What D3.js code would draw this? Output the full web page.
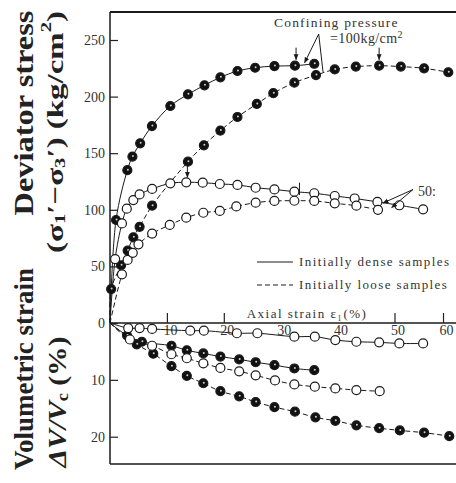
<!doctype html>
<html lang="en">
<head>
<meta charset="utf-8">
<title>Deviator stress and volumetric strain</title>
<style>
  body { margin: 0; background: #fff; }
  svg { display: block; }
  .tick text { font-family: "Liberation Serif", "DejaVu Serif", serif; font-size: 14px; fill: #333; }
  .tick line { stroke: #222; stroke-width: 1.2; }
  .domain { display: none; }
</style>
</head>
<body>
<script src="https://d3js.org/d3.v7.min.js"></script>
<script>
// ---- data: [axial strain %, value] ----
var stressDense100 = [[0,0],[1.06,91],[3.05,135],[3.94,147],[5.3,158.7],[7.37,174],[10.6,191.7],[13.7,202],[16.6,210],[19.4,217],[22.4,222.6],[25.5,225.5],[28.9,227],[32.5,227.3],[35.9,229]];
var stressLoose100 = [[0,0],[0.2,30],[1.95,51],[3.1,64],[4.1,75.7],[5.2,85],[7.4,103.6],[13.7,142.5],[16.5,157],[19.4,170],[22.4,182],[25.8,193.5],[28.7,203],[32.4,212.3],[36.2,219],[39.5,224],[43.2,226.5],[47.3,227.3],[51.3,226.5],[56.1,225],[61.1,221.5]];
var stressDense50 = [[0,0],[0.9,56.5],[2.1,88],[2.95,101],[4.1,108.6],[5.2,113.6],[7.4,118.4],[10.6,123.4],[13.4,124.3],[16.3,124],[19.3,122.8],[22.4,122],[25.6,119.5],[28.9,118],[32.4,116],[35.9,114.6],[39.5,112.2],[43,110],[47,107],[51,104],[55.9,100.4]];
var stressLoose50 = [[0,0],[2.1,43],[3.1,55.7],[4.0,62],[5.0,69.5],[7.4,79],[10.5,86.6],[13.4,93],[16.4,97.4],[19.3,99],[22.2,103],[25.6,106.3],[28.9,107.8],[32.4,108],[35.9,107.8],[39.5,105.7],[43.3,103.6],[47.1,100]];

var volDense100 = [[0,0],[3.0,2.2],[5.6,3.3],[10.8,4.0],[13.5,4.8],[16.4,5.35],[19.4,5.9],[22.7,6.4],[25.6,6.9],[28.9,7.4],[32.4,8.0],[35.9,8.3]];
var volLoose100 = [[0,0],[4.7,3.75],[7.6,5.4],[10.8,7.6],[13.5,9.3],[16.4,10.6],[19.4,12.0],[22.7,12.9],[25.6,13.9],[28.9,14.8],[32.5,15.6],[36.1,16.6],[39.6,17.2],[43.3,18.0],[47.3,18.5],[51.1,18.9],[56.1,19.3],[61.3,19.9]];
var volDense50 = [[0,0],[3.2,0.9],[5.2,0.9],[7.4,1.05],[14.1,1.35],[16.5,1.35],[22.3,1.8],[25.9,1.8],[32.4,2.4],[36,2.4],[39.6,3.0],[43.3,3.3],[47.3,3.4],[51,3.6],[55.9,3.6]];
var volLoose50 = [[0,0],[3.5,2.9],[7.4,4.0],[10.8,5.5],[13.5,6.2],[16.4,7.1],[19.4,7.9],[22.7,8.5],[25.6,9.2],[29,10.1],[32.4,10.8],[36,11.2],[39.6,11.5],[43.3,11.8],[47.4,12.0]];

var strainTicks = [10, 20, 30, 40, 50, 60];
var stressTicks = [0, 50, 100, 150, 200, 250];
var volTicks = [10, 20];
var legendLabels = ["Initially dense samples", "Initially loose samples"];

var width = 456, height = 483;
var svg = d3.select("body").append("svg")
    .attr("width", width)
    .attr("height", height);

// the printed axis is slightly compressed beyond 50 %
var x = d3.scaleLinear().domain([0, 50, 60, 62.7]).range([110, 394.5, 443, 456]);
var yTop = d3.scaleLinear().domain([0, 250]).range([323, 40]);
var yBot = d3.scaleLinear().domain([0, 20]).range([323, 436.7]);

var ink = "#1a1a1a";

// frame
svg.append("line").attr("x1", 110).attr("x2", 456).attr("y1", 12).attr("y2", 12)
    .attr("stroke", ink).attr("stroke-width", 2);
svg.append("line").attr("x1", 110).attr("x2", 110).attr("y1", 12).attr("y2", 464)
    .attr("stroke", ink).attr("stroke-width", 1.5);
svg.append("line").attr("x1", 110).attr("x2", 456).attr("y1", 323).attr("y2", 323)
    .attr("stroke", ink).attr("stroke-width", 1.5);
svg.append("line").attr("x1", 110).attr("x2", 456).attr("y1", 464).attr("y2", 464)
    .attr("stroke", ink).attr("stroke-width", 1.5);

// axes
svg.append("g")
    .attr("transform", "translate(110,0)")
    .call(d3.axisLeft(yTop).tickValues(stressTicks).tickSize(-8).tickPadding(5));
svg.append("g")
    .attr("transform", "translate(110,0)")
    .call(d3.axisLeft(yBot).tickValues(volTicks).tickSize(-8).tickPadding(5));
var xg = svg.append("g")
    .attr("transform", "translate(0,323)")
    .call(d3.axisBottom(x).tickValues(strainTicks).tickSize(-10).tickPadding(2));
xg.selectAll(".tick").filter(function(d) { return d == 30 || d == 40; })
    .select("line").remove();
xg.selectAll(".tick text").attr("dx", 3);

// axis titles
function vtitle(cx, cy, len, size, build) {
    var t = svg.append("text")
        .attr("transform", "translate(" + cx + "," + cy + ") rotate(-90)")
        .attr("text-anchor", "middle")
        .attr("dominant-baseline", "central")
        .attr("font-family", "'Liberation Serif', 'DejaVu Serif', serif")
        .attr("font-weight", "bold")
        .attr("font-size", size)
        .attr("fill", "#222")
        .attr("textLength", len)
        .attr("lengthAdjust", "spacingAndGlyphs");
    build(t);
}
vtitle(23, 113, 205, 28, function(t) { t.text("Deviator stress"); });
vtitle(55, 132, 242, 24, function(t) {
    t.append("tspan").text("(σ");
    t.append("tspan").attr("font-size", 15).attr("dy", 5).text("1");
    t.append("tspan").attr("dy", -5).text("′−σ");
    t.append("tspan").attr("font-size", 15).attr("dy", 5).text("3");
    t.append("tspan").attr("dy", -5).text("′)  (kg/cm");
    t.append("tspan").attr("font-size", 15).attr("dy", -9).text("2");
    t.append("tspan").attr("dy", 9).text(")");
});
vtitle(23, 369, 202, 28, function(t) { t.text("Volumetric strain"); });
vtitle(57, 402, 131, 26, function(t) {
    t.append("tspan").attr("font-style", "italic").text("ΔV/V");
    t.append("tspan").attr("font-size", 16).attr("dy", 5).text("c");
    t.append("tspan").attr("dy", -5).text(" (%)");
});

// curves
var lineTop = d3.line().x(function(d) { return x(d[0]); }).y(function(d) { return yTop(d[1]); })
    .curve(d3.curveCatmullRom.alpha(0.5));
var lineBot = d3.line().x(function(d) { return x(d[0]); }).y(function(d) { return yBot(d[1]); })
    .curve(d3.curveCatmullRom.alpha(0.5));

var series = [
    {data: stressDense100, line: lineTop, y: yTop, dense: true, filled: true},
    {data: stressLoose100, line: lineTop, y: yTop, dense: false, filled: true},
    {data: stressDense50, line: lineTop, y: yTop, dense: true, filled: false},
    {data: stressLoose50, line: lineTop, y: yTop, dense: false, filled: false},
    {data: volDense100, line: lineBot, y: yBot, dense: true, filled: true},
    {data: volLoose100, line: lineBot, y: yBot, dense: false, filled: true},
    {data: volDense50, line: lineBot, y: yBot, dense: true, filled: false},
    {data: volLoose50, line: lineBot, y: yBot, dense: false, filled: false}
];

series.forEach(function(s) {
    svg.append("path")
        .attr("d", s.line(s.data))
        .attr("fill", "none")
        .attr("stroke", ink)
        .attr("stroke-width", 1)
        .attr("stroke-dasharray", s.dense ? null : "5,3");
});
series.forEach(function(s) {
    var pts = s.data.slice(1);
    svg.append("g").selectAll("circle")
        .data(pts)
        .enter().append("circle")
        .attr("cx", function(d) { return x(d[0]); })
        .attr("cy", function(d) { return s.y(d[1]); })
        .attr("r", 4.5)
        .attr("fill", s.filled ? "#111" : "#fff")
        .attr("stroke", ink)
        .attr("stroke-width", 1.2);
    if (s.filled) {
        svg.append("g").selectAll("circle")
            .data(pts)
            .enter().append("circle")
            .attr("cx", function(d) { return x(d[0]) + 0.5; })
            .attr("cy", function(d) { return s.y(d[1]) - 0.5; })
            .attr("r", 1)
            .attr("fill", "#ccc");
    }
});

// axis label for strain
svg.append("text")
    .attr("x", 307).attr("y", 318)
    .attr("text-anchor", "middle")
    .attr("font-family", "'Liberation Serif', 'DejaVu Serif', serif")
    .attr("font-size", 13)
    .attr("letter-spacing", 1.5)
    .attr("fill", "#333")
    .text("Axial strain ε₁(%)");

// legend
var legend = svg.append("g").selectAll("g")
    .data(legendLabels)
    .enter().append("g")
    .attr("transform", function(d, i) { return "translate(257," + (262 + i * 23) + ")"; });
legend.append("line")
    .attr("x1", 0).attr("x2", 36)
    .attr("stroke", ink).attr("stroke-width", 1)
    .attr("stroke-dasharray", function(d, i) { return i ? "5,3" : null; });
legend.append("text")
    .attr("x", 42).attr("y", 4)
    .attr("font-family", "'Liberation Serif', 'DejaVu Serif', serif")
    .attr("font-size", 13)
    .attr("letter-spacing", 1.4)
    .attr("fill", "#333")
    .text(function(d) { return d; });

// annotations
var defs = svg.append("defs");
defs.append("marker").attr("id", "ah")
    .attr("viewBox", "0 0 10 10").attr("refX", 9).attr("refY", 5)
    .attr("markerWidth", 6).attr("markerHeight", 6).attr("orient", "auto")
    .append("path").attr("d", "M0,1 L10,5 L0,9 z").attr("fill", ink);

function arrow(x1, y1, x2, y2) {
    svg.append("line")
        .attr("x1", x1).attr("y1", y1).attr("x2", x2).attr("y2", y2)
        .attr("stroke", ink).attr("stroke-width", 1)
        .attr("marker-end", "url(#ah)");
}

var serif = "'Liberation Serif', 'DejaVu Serif', serif";
svg.append("text").attr("x", 274).attr("y", 27)
    .attr("font-family", serif).attr("font-size", 13.5).attr("letter-spacing", 1.2)
    .attr("fill", "#333").text("Confining pressure");
var cp = svg.append("text").attr("x", 330).attr("y", 43)
    .attr("font-family", serif).attr("font-size", 14)
    .attr("letter-spacing", 0.4)
    .attr("fill", "#333");
cp.append("tspan").text("=100kg/cm");
cp.append("tspan").attr("font-size", 10).attr("dy", -5).text("2");

// pointer from the label to the two 100 kg/cm2 curves
arrow(318.7, 34, x(34.2), yTop(229) - 1);
svg.append("polyline")
    .attr("points", [[318.7, 34], [323, yTop(222)], [x(37.5), yTop(222)]].join(" "))
    .attr("fill", "none").attr("stroke", ink).attr("stroke-width", 1);

// peak markers
arrow(x(32.7), yTop(227.3) - 18, x(32.7), yTop(227.3) - 6);
arrow(x(47.3), yTop(227.3) - 18, x(47.3), yTop(227.3) - 6);
arrow(x(13.6), yTop(141), x(13.6), yTop(124.3) - 5);
svg.append("line")
    .attr("x1", x(33.3)).attr("x2", x(33.3))
    .attr("y1", yTop(124)).attr("y2", yTop(113))
    .attr("stroke", ink).attr("stroke-width", 1);

svg.append("text").attr("x", 418).attr("y", 196)
    .attr("font-family", serif).attr("font-size", 14)
    .attr("fill", "#333").text("50:");
arrow(413, 189.5, x(48.0), yTop(106));
arrow(413, 189.5, x(49.5), yTop(102));
</script>
</body>
</html>
